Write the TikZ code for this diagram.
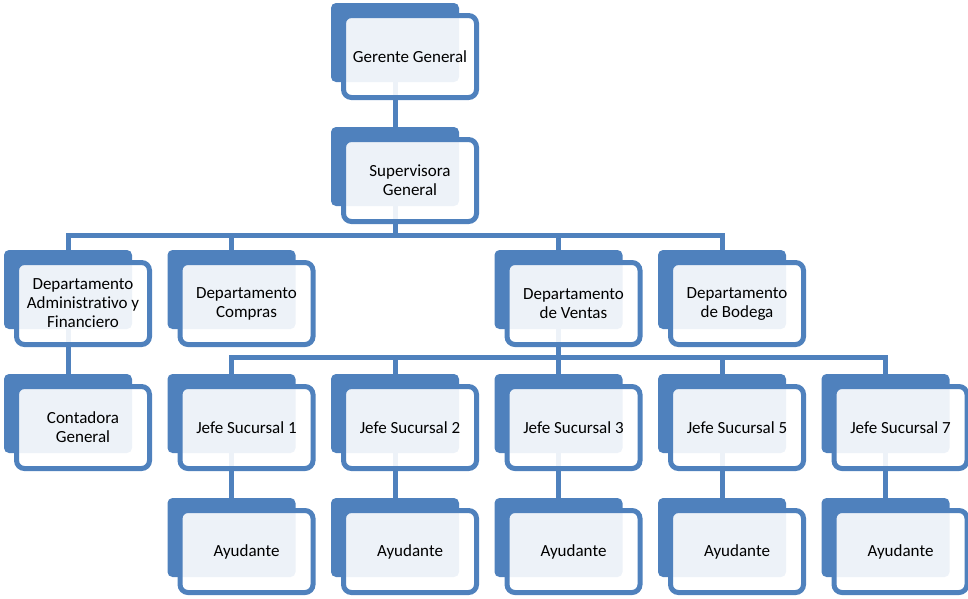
\documentclass[tikz,border=0pt]{standalone}
\usepackage{fontspec}
\setmainfont[Ligatures=NoCommon]{Carlito}
\usetikzlibrary{backgrounds}
\definecolor{obl}{HTML}{4F81BD}
\tikzset{
 backbox/.style={fill=obl, rounded corners=5pt, minimum width=128pt, minimum height=79pt, anchor=north west, inner sep=0pt, outer sep=0pt},
 frontbox/.style={draw=obl, line width=5pt, fill=white, fill opacity=0.9, text opacity=1, rounded corners=8pt, minimum width=133pt, minimum height=82pt, anchor=north west, inner sep=0pt, outer sep=0pt, align=center, font=\fontsize{17}{19}\selectfont},
 conn/.style={draw=obl, line width=5pt},
}
\newcommand\obox[4]{%
 \node[backbox] (#1-b) at (#2,#3) {};
 \node[frontbox] (#1) at ({#2+12.5},{#3+12.5}) {#4};}
\begin{document}
\begin{tikzpicture}[x=1pt,y=-1pt]
\useasboundingbox (0,0) rectangle (968,598);
\obox{ger}{331}{3}{Gerente General}
\obox{sup}{331}{127}{Supervisora\\General}
\obox{adm}{4}{250}{Departamento\\Administrativo y\\Financiero}
\obox{com}{167.5}{250}{Departamento\\Compras}
\obox{ven}{494.5}{250}{Departamento\\de Ventas}
\obox{bod}{658}{250}{Departamento\\de Bodega}
\obox{con}{4}{374}{Contadora\\General}
\obox{j1}{167.5}{374}{Jefe Sucursal 1}
\obox{j2}{331}{374}{Jefe Sucursal 2}
\obox{j3}{494.5}{374}{Jefe Sucursal 3}
\obox{j5}{658}{374}{Jefe Sucursal 5}
\obox{j7}{821.5}{374}{Jefe Sucursal 7}
\obox{a1}{167.5}{498}{Ayudante}
\obox{a2}{331}{498}{Ayudante}
\obox{a3}{494.5}{498}{Ayudante}
\obox{a5}{658}{498}{Ayudante}
\obox{a7}{821.5}{498}{Ayudante}
\coordinate (busA) at (0,235.5);
\coordinate (busB) at (0,357.5);
\begin{pgfonlayer}{background}
\draw[conn] (ger-b.center) -- (sup-b.center);
\draw[conn] (sup-b.center) -- (sup-b.center |- busA);
\draw[conn] (adm-b.center) -- (adm-b.center |- busA) -- (bod-b.center |- busA) -- (bod-b.center);
\draw[conn] (com-b.center |- busA) -- (com-b.center);
\draw[conn] (ven-b.center |- busA) -- (ven-b.center);
\draw[conn] (adm-b.center) -- (con-b.center);
\draw[conn] (ven-b.center) -- (ven-b.center |- busB);
\draw[conn] (j1-b.center) -- (j1-b.center |- busB) -- (j7-b.center |- busB) -- (j7-b.center);
\draw[conn] (j2-b.center |- busB) -- (j2-b.center);
\draw[conn] (j3-b.center |- busB) -- (j3-b.center);
\draw[conn] (j5-b.center |- busB) -- (j5-b.center);
\draw[conn] (j1-b.center) -- (a1-b.center);
\draw[conn] (j2-b.center) -- (a2-b.center);
\draw[conn] (j3-b.center) -- (a3-b.center);
\draw[conn] (j5-b.center) -- (a5-b.center);
\draw[conn] (j7-b.center) -- (a7-b.center);
\end{pgfonlayer}
\end{tikzpicture}
\end{document}
